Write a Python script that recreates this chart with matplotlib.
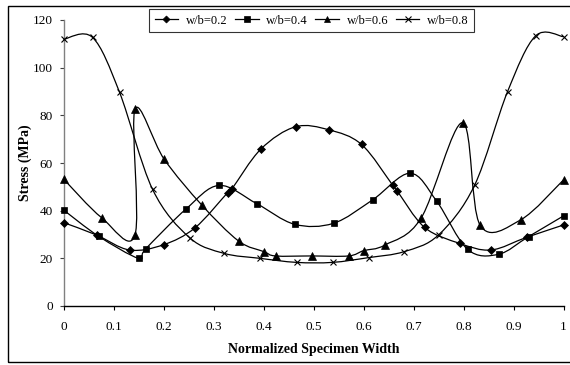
import matplotlib
matplotlib.use("Agg")
import matplotlib.pyplot as plt
from matplotlib.path import Path
from matplotlib.patches import PathPatch, Rectangle
from matplotlib.lines import Line2D
import numpy as np

plt.rcParams['font.family'] = ['Liberation Serif', 'DejaVu Serif']

# ---- data ----
labels = ["w/b=0.2", "w/b=0.4", "w/b=0.6", "w/b=0.8"]

x_02 = [0, 0.066, 0.132, 0.2, 0.263, 0.328, 0.337, 0.395, 0.464, 0.531, 0.596,
        0.658, 0.667, 0.722, 0.792, 0.855, 0.926, 1.0]
y_02 = [35.0, 29.8, 23.5, 25.7, 32.8, 47.5, 49.2, 65.9, 75.2, 73.9, 67.8,
        50.8, 48.4, 33.0, 26.3, 23.5, 28.8, 34.0]

x_04 = [0, 0.07, 0.15, 0.164, 0.245, 0.311, 0.386, 0.462, 0.54, 0.618, 0.693,
        0.746, 0.808, 0.87, 0.93, 1.0]
y_04 = [40.3, 29.3, 20.0, 23.9, 40.7, 50.6, 43.0, 34.3, 34.7, 44.5, 55.7,
        44.1, 23.8, 21.7, 29.1, 37.8]

x_06 = [0, 0.076, 0.143, 0.143, 0.201, 0.276, 0.35, 0.401, 0.424, 0.496, 0.57,
        0.6, 0.643, 0.715, 0.798, 0.833, 0.914, 1.0]
y_06 = [53.3, 37.1, 29.8, 82.5, 61.7, 42.5, 27.3, 22.8, 21.0, 21.0, 21.0,
        23.2, 25.6, 36.8, 76.9, 34.0, 36.1, 52.9]

x_08 = [0, 0.058, 0.112, 0.178, 0.252, 0.321, 0.393, 0.466, 0.538, 0.61, 0.681,
        0.75, 0.822, 0.888, 0.944, 1.0]
y_08 = [111.9, 112.7, 89.7, 49.0, 28.7, 22.1, 20.0, 18.3, 18.3, 20.3, 22.8,
        29.8, 50.6, 89.9, 113.3, 113.0]

x_ticks = [0, 0.1, 0.2, 0.3, 0.4, 0.5, 0.6, 0.7, 0.8, 0.9, 1]
x_ticklabels = ["0", "0.1", "0.2", "0.3", "0.4", "0.5", "0.6", "0.7", "0.8", "0.9", "1"]
y_ticks = [0, 20, 40, 60, 80, 100, 120]

series = [(x_02, y_02), (x_04, y_04), (x_06, y_06), (x_08, y_08)]
markers = ['D', 's', '^', 'x']
msizes = [4.2, 4.5, 5.5, 4.5]


def smooth_path(xs, ys):
    """Excel-like smoothed line: Catmull-Rom converted to cubic Bezier."""
    P = np.column_stack([xs, ys]).astype(float)
    n = len(P)
    verts = [P[0]]
    codes = [Path.MOVETO]
    for i in range(n - 1):
        p0 = P[i - 1] if i > 0 else P[i]
        p1 = P[i]
        p2 = P[i + 1]
        p3 = P[i + 2] if i + 2 < n else P[i + 1]
        c1 = p1 + (p2 - p0) / 6.0
        c2 = p2 - (p3 - p1) / 6.0
        verts += [c1, c2, p2]
        codes += [Path.CURVE4] * 3
    return Path(verts, codes)


fig = plt.figure(figsize=(5.7, 3.65), dpi=100)
ax = fig.add_axes([63.5 / 570, 1 - 306 / 365, 500 / 570, 286 / 365])

handles = []
for (xs, ys), m, ms, lab in zip(series, markers, msizes, labels):
    patch = PathPatch(smooth_path(xs, ys), facecolor='none', edgecolor='black',
                      lw=0.9, transform=ax.transData, clip_on=False)
    ax.add_patch(patch)
    mew = 0.8 if m == 'x' else 0.5
    ax.plot(xs, ys, linestyle='none', marker=m, ms=ms, color='black',
            mec='black', mew=mew, clip_on=False, zorder=3)
    handles.append(Line2D([], [], color='black', lw=0.9, marker=m,
                          ms=ms * 0.85, mew=mew))

ax.set_xlim(0, 1)
ax.set_ylim(0, 120)
ax.set_xticks(x_ticks)
ax.set_xticklabels(x_ticklabels)
ax.set_yticks(y_ticks)
for s in ['top', 'right']:
    ax.spines[s].set_visible(False)
ax.spines['left'].set_color('#808080')
ax.spines['bottom'].set_color('black')
ax.spines['left'].set_linewidth(1.0)
ax.spines['bottom'].set_linewidth(1.0)
ax.tick_params(axis='both', direction='out', length=3, width=0.8,
               labelsize=9.5, colors='black')
ax.tick_params(axis='x', pad=8)
ax.tick_params(axis='y', pad=4.5, color='#404040')
ax.set_xlabel("Normalized Specimen Width", fontsize=10, fontweight='bold',
              labelpad=7)
ax.set_ylabel("Stress (MPa)", fontsize=10, fontweight='bold', labelpad=1)

leg = fig.legend(handles, labels, ncol=4, loc='center',
                 bbox_to_anchor=(311.5 / 570, 1 - 20.5 / 365),
                 fontsize=9, frameon=True, fancybox=False, shadow=False,
                 handlelength=1.9, handletextpad=0.6, columnspacing=0.6,
                 borderpad=0.45, borderaxespad=0)
leg.get_frame().set_edgecolor('black')
leg.get_frame().set_linewidth(0.8)

# outer chart border
fig.add_artist(Rectangle((8 / 570, 1 - 362 / 365), 1.2, 356 / 365,
                         transform=fig.transFigure, fill=False,
                         edgecolor='black', lw=1.0, clip_on=False))

fig.savefig("out.png", dpi=100)
